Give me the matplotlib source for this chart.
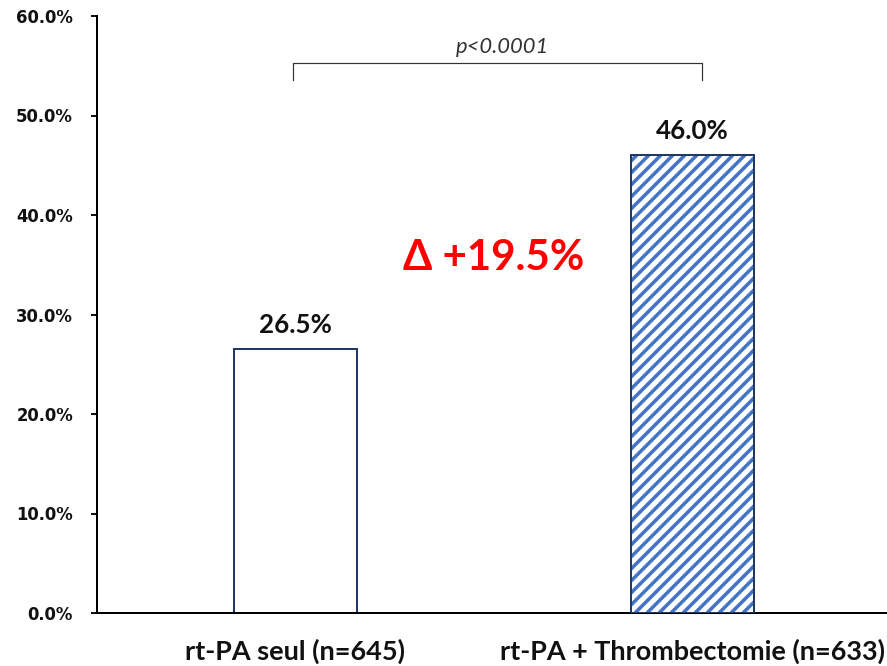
import numpy as np
import matplotlib.pyplot as plt

# data
groups = ['rt-PA seul (n=645)', 'rt-PA + Thrombectomie (n=633)']
rates = [0.265, 0.460]
value_labels = ['26.5%', '46.0%']
delta_label = 'Δ +19.5%'
p_label = 'p<0.0001'
yticks = [0.0, 0.1, 0.2, 0.3, 0.4, 0.5, 0.6]

plt.rcParams['hatch.linewidth'] = 3.5

# dpi 72 so that 1pt == 1px
fig = plt.figure(figsize=(887 / 72, 666 / 72), dpi=72)
ax = fig.add_axes([97 / 887, 53 / 666, 790 / 887, 597 / 666])

x = np.arange(len(groups))
navy = '#1F3864'
blue = '#4472C4'

ax.bar(x[0], rates[0], width=0.312, color='white', edgecolor=navy, linewidth=2, zorder=2)
# hatched bar: hatch first, then the dark outline on top
ax.bar(x[1], rates[1], width=0.312, color='white', edgecolor=blue, hatch='//', linewidth=0, zorder=2)
ax.bar(x[1], rates[1], width=0.312, fill=False, edgecolor=navy, linewidth=2, zorder=3)

for xi, r, lab in zip(x, rates, value_labels):
    ax.annotate(lab, (xi, r), xytext=(0, 12), textcoords='offset points',
                ha='center', va='bottom', fontsize=26, fontweight='bold',
                family='Lato', color='#111111')

ax.text(0.5, 0.357, delta_label, ha='center', va='center', color='#FF0000',
        fontsize=42, fontweight='bold', family='Lato')

# significance bracket
ax.plot([-0.006, -0.006, 1.024, 1.024], [0.5357, 0.5528, 0.5528, 0.5357],
        color='#333333', linewidth=1.2, zorder=4)
ax.text(0.522, 0.5685, p_label, ha='center', va='center', fontsize=22,
        style='italic', family='Lato', color='#333333')

ax.set_xlim(-0.5, 1.49)
ax.set_ylim(0, 0.6)
ax.set_yticks(yticks)
ax.set_yticklabels(['{:.1f}%'.format(v * 100) for v in yticks])
ax.set_xticks(x)
ax.set_xticklabels(groups)

for lab in ax.get_yticklabels():
    lab.set_fontsize(16.5)
    lab.set_fontweight('bold')
    lab.set_family('DejaVu Sans')
for lab in ax.get_xticklabels():
    lab.set_fontsize(27)
    lab.set_fontweight('bold')
    lab.set_family('Lato')

ax.tick_params(axis='y', direction='out', length=6, width=2, pad=18, colors='#111111')
ax.tick_params(axis='x', length=0, pad=26, colors='#111111')

for s in ['top', 'right']:
    ax.spines[s].set_visible(False)
for s in ['left', 'bottom']:
    ax.spines[s].set_linewidth(2)
    ax.spines[s].set_color('black')

fig.savefig('out.png', dpi=72)
